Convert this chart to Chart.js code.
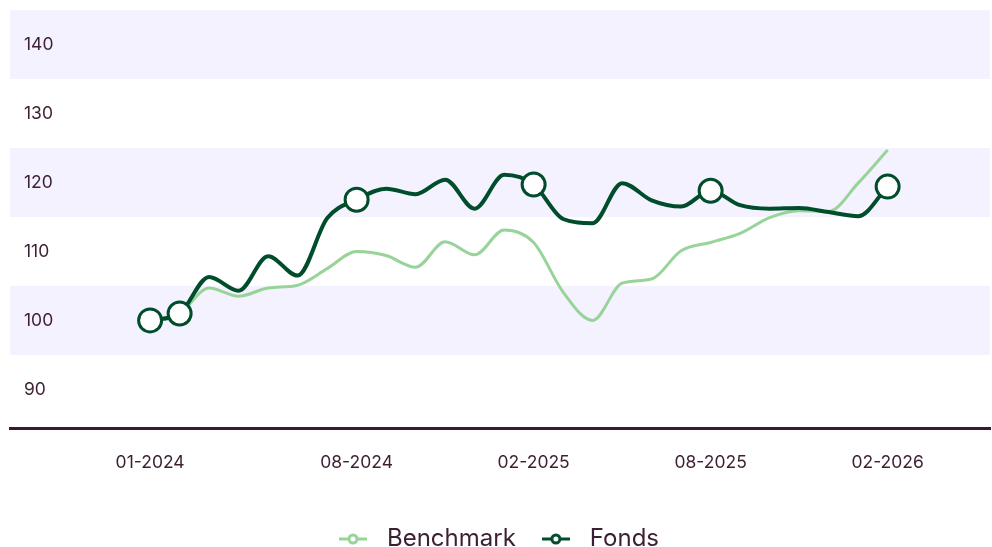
<!DOCTYPE html>
<html>
<head>
<meta charset="utf-8">
<script src="https://cdn.jsdelivr.net/npm/chart.js@4"></script>
<style>
  html, body { margin: 0; padding: 0; background: #fff; overflow: hidden; }
  #wrap { width: 992px; height: 547px; }
</style>
</head>
<body>
<div id="wrap"><canvas id="perf"></canvas></div>
<script>
// monthly series, 01-2024 .. 02-2026
var months = ['01-2024','02-2024','03-2024','04-2024','05-2024','06-2024','07-2024','08-2024',
  '09-2024','10-2024','11-2024','12-2024','01-2025','02-2025','03-2025','04-2025','05-2025',
  '06-2025','07-2025','08-2025','09-2025','10-2025','11-2025','12-2025','01-2026','02-2026'];
var fonds = [100, 101.0, 106.3, 104.3, 109.3, 106.5, 114.8, 117.5, 119.1, 118.3, 120.4, 116.2, 121.1,
  119.7, 114.7, 114.1, 119.9, 117.4, 116.5, 118.8, 116.7, 116.2, 116.3, 115.7, 115.1, 119.4];
var benchmark = [100, 101.0, 104.7, 103.5, 104.7, 105.1, 107.5, 110.0, 109.4, 107.7, 111.4, 109.5, 113.1,
  111.3, 104.1, 100.0, 105.4, 106.0, 110.1, 111.3, 112.6, 114.9, 115.9, 115.8, 119.9, 124.7];
var xTicks = [0, 7, 13, 19, 25];
var markedPoints = [0, 1, 7, 13, 19, 25];
var yTicks = [90, 100, 110, 120, 130, 140];
var bands = [[95, 105], [115, 125], [135, 145]];

var dark = '#004d2c';
var light = '#98d49a';
var textColor = '#3d1f33';

function toXY(arr) {
  return arr.map(function (v, i) { return { x: i, y: v }; });
}

function legendIcon(color) {
  var c = document.createElement('canvas');
  c.width = 28; c.height = 14;
  var g = c.getContext('2d');
  g.strokeStyle = color;
  g.lineWidth = 3;
  g.beginPath(); g.moveTo(0, 7); g.lineTo(28, 7); g.stroke();
  g.fillStyle = '#fff';
  g.beginPath(); g.arc(14, 7, 4, 0, Math.PI * 2); g.fill(); g.stroke();
  return c;
}

var bandPlugin = {
  id: 'bands',
  beforeDraw: function (chart) {
    var ctx = chart.ctx, y = chart.scales.y, a = chart.chartArea;
    ctx.save();
    ctx.fillStyle = '#f4f2fe';
    bands.forEach(function (b) {
      var top = y.getPixelForValue(b[1]);
      var bot = y.getPixelForValue(b[0]);
      ctx.fillRect(a.left, top, a.right - a.left, bot - top);
    });
    ctx.restore();
  }
};

function noPad(scale) {
  scale.paddingTop = 0; scale.paddingBottom = 0;
  scale.paddingLeft = 0; scale.paddingRight = 0;
}

var ctx = document.getElementById('perf').getContext('2d');
var chart = new Chart(ctx, {
  type: 'line',
  data: {
    datasets: [{
      label: 'Benchmark',
      data: toXY(benchmark),
      borderColor: light,
      borderWidth: 3,
      pointRadius: 0,
      cubicInterpolationMode: 'monotone',
      order: 1
    }, {
      label: 'Fonds',
      data: toXY(fonds),
      borderColor: dark,
      borderWidth: 4,
      pointBackgroundColor: '#fff',
      pointBorderColor: dark,
      pointBorderWidth: 3,
      pointRadius: fonds.map(function (v, i) { return markedPoints.indexOf(i) >= 0 ? 11.5 : 0; }),
      cubicInterpolationMode: 'monotone',
      order: 0
    }]
  },
  options: {
    responsive: true,
    maintainAspectRatio: false,
    animation: false,
    layout: { autoPadding: false, padding: { left: 0, right: 2, top: 10, bottom: -14 } },
    scales: {
      x: {
        type: 'linear',
        min: -4.75,
        max: 28.47,
        grid: { display: false, drawTicks: false },
        border: { display: true, color: '#3a1a2e', width: 3 },
        afterBuildTicks: function (scale) {
          scale.ticks = xTicks.map(function (v) { return { value: v }; });
        },
        afterFit: function (scale) { noPad(scale); scale.height += 12; },
        ticks: {
          padding: 24,
          color: textColor,
          font: { family: 'Inter', size: 17.5 },
          maxRotation: 0,
          callback: function (v) { return months[v]; }
        }
      },
      y: {
        min: 84.4,
        max: 145,
        grid: { display: false, drawTicks: false },
        border: { display: false },
        afterBuildTicks: function (scale) {
          scale.ticks = yTicks.map(function (v) { return { value: v }; });
        },
        afterFit: function (scale) { noPad(scale); scale.width = 10; },
        ticks: {
          mirror: true,
          padding: 14,
          color: textColor,
          font: { family: 'Inter', size: 17.5 }
        }
      }
    },
    plugins: {
      legend: {
        position: 'bottom',
        labels: {
          usePointStyle: true,
          pointStyleWidth: 44,
          color: textColor,
          padding: 18,
          font: { family: 'Inter', size: 24 },
          generateLabels: function (chart) {
            return chart.data.datasets.map(function (ds, i) {
              return {
                text: ds.label,
                pointStyle: legendIcon(ds.borderColor),
                fontColor: textColor,
                strokeStyle: ds.borderColor,
                lineWidth: 0,
                hidden: false,
                datasetIndex: i
              };
            });
          }
        }
      },
      tooltip: { enabled: false }
    }
  },
  plugins: [bandPlugin]
});
</script>
</body>
</html>
